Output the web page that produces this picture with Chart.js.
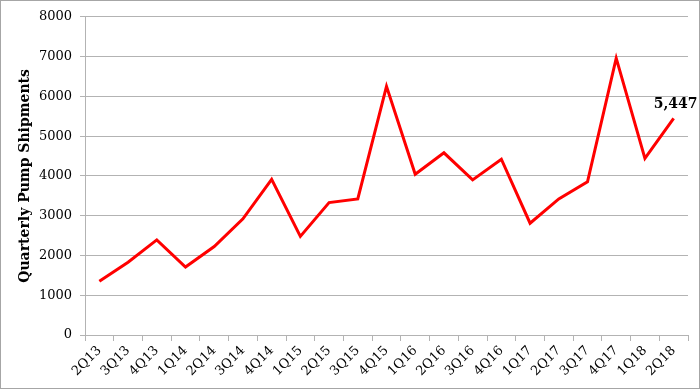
<!DOCTYPE html>
<html>
<head>
<meta charset="utf-8">
<script src="https://cdn.jsdelivr.net/npm/chart.js@4"></script>
<style>
  html, body { margin: 0; padding: 0; background: #fff; }
  #wrap {
    width: 700px;
    height: 389px;
    box-sizing: border-box;
    border: 1px solid #a6a6a6;
  }
</style>
</head>
<body>
<div id="wrap"><canvas id="pumpChart" width="698" height="387"></canvas></div>
<script>
// trimestres 2Q13 .. 2Q18
const quarters = [
  '2Q13', '3Q13', '4Q13', '1Q14', '2Q14', '3Q14', '4Q14',
  '1Q15', '2Q15', '3Q15', '4Q15', '1Q16', '2Q16', '3Q16',
  '4Q16', '1Q17', '2Q17', '3Q17', '4Q17', '1Q18', '2Q18',
];

// valores (o último é o rótulo 5,447)
const shipments = [
  1350, 1830, 2390, 1710, 2225, 2920, 3915,
  2480, 3330, 3420, 6250, 4040, 4580, 3900,
  4420, 2810, 3420, 3850, 6960, 4440, 5447,
];

const yTicks = [0, 1000, 2000, 3000, 4000, 5000, 6000, 7000, 8000];

const serif = '"DejaVu Serif", Georgia, serif';
const gridColor = '#b3b3b3';

// desenha o rótulo do último ponto
const lastLabelPlugin = {
  id: 'lastLabel',
  afterDatasetsDraw(chart) {
    const meta = chart.getDatasetMeta(0);
    const last = meta.data[meta.data.length - 1];
    if (!last) return;
    const value = shipments[shipments.length - 1];
    const ctx = chart.ctx;
    ctx.save();
    ctx.font = `bold 14px ${serif}`;
    ctx.fillStyle = '#000';
    ctx.textAlign = 'center';
    ctx.textBaseline = 'bottom';
    ctx.fillText(value.toLocaleString('en-US'), last.x + 2, last.y - 7);
    ctx.restore();
  },
};

const ctx = document.getElementById('pumpChart').getContext('2d');
new Chart(ctx, {
  type: 'line',
  data: {
    labels: quarters,
    datasets: [
      {
        label: 'Quarterly Pump Shipments',
        data: shipments,
        borderColor: '#ff0000',
        borderWidth: 3,
        pointRadius: 0,
        tension: 0,
        fill: false,
      },
    ],
  },
  options: {
    responsive: false,
    animation: false,
    layout: {
      padding: { top: 14, right: 11, left: 0, bottom: 0 },
    },
    scales: {
      y: {
        min: 0,
        max: 8000,
        afterBuildTicks(scale) {
          scale.ticks = yTicks.map((v) => ({ value: v }));
        },
        afterFit(scale) {
          scale.width = 84;
        },
        ticks: {
          color: '#000',
          padding: 8,
          callback: (v) => String(v),
          font: { family: serif, size: 13 },
        },
        grid: {
          color: gridColor,
          tickLength: 5,
        },
        border: { color: gridColor },
        title: {
          display: true,
          text: 'Quarterly Pump Shipments',
          color: '#000',
          padding: { top: 16, bottom: 0 },
          font: { family: serif, size: 14, weight: 'bold' },
        },
      },
      x: {
        offset: true,
        afterFit(scale) {
          scale.height = 53;
        },
        ticks: {
          color: '#000',
          minRotation: 45,
          maxRotation: 45,
          autoSkip: false,
          padding: 2,
          font: { family: serif, size: 13 },
        },
        grid: {
          offset: true,
          drawOnChartArea: false,
          color: gridColor,
          tickLength: 6,
        },
        border: { color: gridColor },
      },
    },
    plugins: {
      legend: { display: false },
      tooltip: { enabled: false },
    },
  },
  plugins: [lastLabelPlugin],
});
</script>
</body>
</html>
